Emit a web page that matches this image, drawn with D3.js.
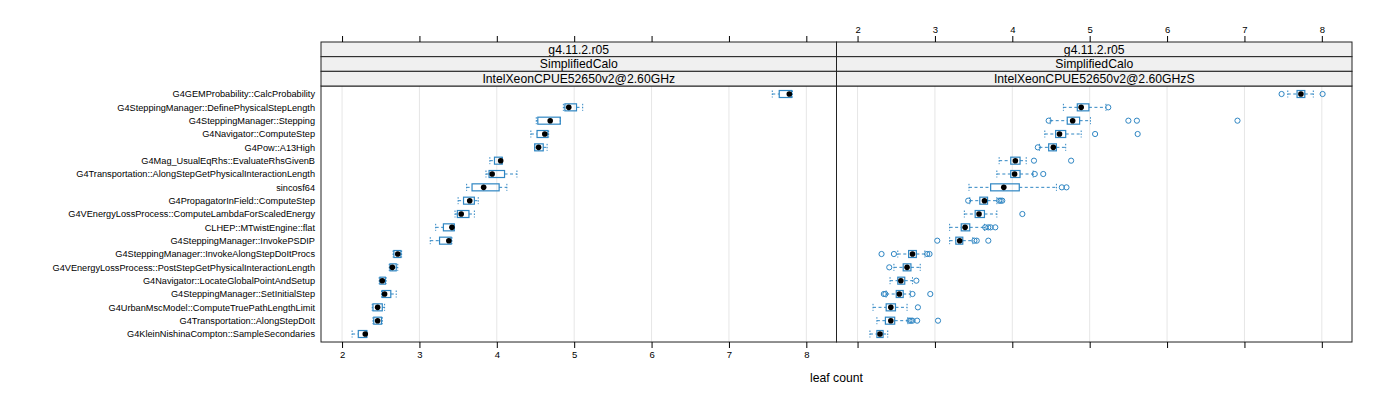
<!DOCTYPE html>
<html>
<head>
<meta charset="utf-8">
<script src="https://cdn.jsdelivr.net/npm/d3@7"></script>
<style>
  body { margin: 0; background: #fff; }
  svg { font-family: "Liberation Sans", Arial, sans-serif; }
</style>
</head>
<body>
<div id="chart"></div>
<script>
// categories top to bottom
var categories = [
  "G4GEMProbability::CalcProbability",
  "G4SteppingManager::DefinePhysicalStepLength",
  "G4SteppingManager::Stepping",
  "G4Navigator::ComputeStep",
  "G4Pow::A13High",
  "G4Mag_UsualEqRhs::EvaluateRhsGivenB",
  "G4Transportation::AlongStepGetPhysicalInteractionLength",
  "sincosf64",
  "G4PropagatorInField::ComputeStep",
  "G4VEnergyLossProcess::ComputeLambdaForScaledEnergy",
  "CLHEP::MTwistEngine::flat",
  "G4SteppingManager::InvokePSDIP",
  "G4SteppingManager::InvokeAlongStepDoItProcs",
  "G4VEnergyLossProcess::PostStepGetPhysicalInteractionLength",
  "G4Navigator::LocateGlobalPointAndSetup",
  "G4SteppingManager::SetInitialStep",
  "G4UrbanMscModel::ComputeTruePathLengthLimit",
  "G4Transportation::AlongStepDoIt",
  "G4KleinNishinaCompton::SampleSecondaries"
];
var panelStrips = [
  ["g4.11.2.r05", "SimplifiedCalo", "IntelXeonCPUE52650v2@2.60GHz"],
  ["g4.11.2.r05", "SimplifiedCalo", "IntelXeonCPUE52650v2@2.60GHzS"]
];
var xTicks = [2, 3, 4, 5, 6, 7, 8];

// left panel: whisker low, q1, median, q3, whisker high, outliers
var loA  = [7.56, 4.86, 4.51, 4.44, 4.49, 3.91, 3.86, 3.61, 3.50, 3.46, 3.21, 3.14, 2.66, 2.61, 2.48, 2.51, 2.39, 2.40, 2.13];
var q1A  = [7.65, 4.88, 4.53, 4.52, 4.49, 3.97, 3.90, 3.68, 3.57, 3.49, 3.31, 3.26, 2.67, 2.62, 2.49, 2.52, 2.40, 2.41, 2.21];
var medA = [7.78, 4.93, 4.69, 4.62, 4.54, 4.05, 3.94, 3.83, 3.65, 3.54, 3.42, 3.38, 2.72, 2.65, 2.52, 2.55, 2.46, 2.46, 2.30];
var q3A  = [7.81, 5.03, 4.82, 4.66, 4.60, 4.07, 4.10, 4.03, 3.71, 3.64, 3.45, 3.41, 2.76, 2.70, 2.56, 2.63, 2.52, 2.51, 2.32];
var hiA  = [7.82, 5.11, 4.82, 4.67, 4.65, 4.07, 4.26, 4.13, 3.76, 3.71, 3.45, 3.42, 2.77, 2.72, 2.57, 2.70, 2.55, 2.52, 2.32];
var outA = [[], [], [], [], [], [], [], [], [], [], [], [], [], [], [], [], [], [], []];

// right panel
var loB  = [7.56, 4.66, 4.49, 4.42, 4.35, 3.83, 3.80, 3.44, 3.45, 3.38, 3.19, 3.19, 2.52, 2.47, 2.42, 2.37, 2.20, 2.25, 2.16];
var q1B  = [7.68, 4.84, 4.71, 4.56, 4.47, 3.98, 3.98, 3.72, 3.58, 3.52, 3.34, 3.27, 2.66, 2.59, 2.52, 2.50, 2.37, 2.36, 2.25];
var medB = [7.73, 4.89, 4.78, 4.61, 4.53, 4.04, 4.03, 3.89, 3.64, 3.57, 3.39, 3.32, 2.71, 2.64, 2.56, 2.54, 2.43, 2.43, 2.29];
var q3B  = [7.78, 4.99, 4.87, 4.69, 4.57, 4.10, 4.10, 4.09, 3.68, 3.64, 3.45, 3.36, 2.76, 2.69, 2.61, 2.59, 2.49, 2.48, 2.33];
var hiB  = [7.89, 5.21, 5.01, 4.89, 4.69, 4.18, 4.27, 4.57, 3.80, 3.80, 3.64, 3.49, 2.87, 2.81, 2.71, 2.68, 2.64, 2.65, 2.39];
var outB = [
  [7.48, 8.01],
  [5.24],
  [4.47, 5.50, 5.61, 6.91],
  [5.07, 5.62],
  [4.33],
  [4.28, 4.76],
  [4.29, 4.40],
  [4.64, 4.70],
  [3.43, 3.83, 3.85, 3.87],
  [4.13],
  [3.65, 3.69, 3.72, 3.78],
  [3.03, 3.51, 3.54, 3.69],
  [2.31, 2.47, 2.90, 2.93],
  [2.41],
  [2.76],
  [2.34, 2.36, 2.71, 2.94],
  [2.78],
  [2.67, 2.69, 2.71, 2.77, 3.04],
  []
];

var panels = [
  {lo: loA, q1: q1A, med: medA, q3: q3A, hi: hiA, out: outA},
  {lo: loB, q1: q1B, med: medB, q3: q3B, hi: hiB, out: outB}
];

var W = 1400, H = 400;
var padL = 321, pw = 515.5, padT = 42, stripH = 14.67, ph = 256;
var plotTop = padT + 3 * stripH;
var boxCol = "#2f86c3";

var svg = d3.select("#chart").append("svg")
    .attr("width", W).attr("height", H);

var x = d3.scaleLinear().domain([1.728, 8.39]).range([0, pw]);
var y = d3.scalePoint().domain(categories).range([0, ph]).padding(0.6);

// y labels
svg.append("g")
  .selectAll("text")
  .data(categories)
  .enter().append("text")
    .attr("x", 315)
    .attr("y", d => plotTop + y(d))
    .attr("dy", "0.35em")
    .attr("text-anchor", "end")
    .attr("font-size", 9.2)
    .text(d => d);

panels.forEach(function(p, pi) {
  var g = svg.append("g")
      .attr("transform", "translate(" + (padL + pi * pw) + "," + plotTop + ")");

  // grid
  g.selectAll(".grid").data(xTicks).enter().append("line")
      .attr("x1", d => x(d)).attr("x2", d => x(d))
      .attr("y1", 0).attr("y2", ph)
      .attr("stroke", "#e6e6e6").attr("stroke-width", 1);

  var rows = g.selectAll(".row").data(categories).enter().append("g")
      .attr("transform", d => "translate(0," + y(d) + ")");
  var bh = 7;

  // whiskers (dashed)
  rows.append("line")
      .attr("x1", (d, i) => x(p.lo[i])).attr("x2", (d, i) => x(p.q1[i]))
      .attr("stroke", boxCol).attr("stroke-dasharray", "3,2.5");
  rows.append("line")
      .attr("x1", (d, i) => x(p.q3[i])).attr("x2", (d, i) => x(p.hi[i]))
      .attr("stroke", boxCol).attr("stroke-dasharray", "3,2.5");
  // whisker caps
  rows.append("line")
      .attr("x1", (d, i) => x(p.lo[i])).attr("x2", (d, i) => x(p.lo[i]))
      .attr("y1", -bh / 2).attr("y2", bh / 2)
      .attr("stroke", boxCol).attr("stroke-dasharray", "1.5,1.5");
  rows.append("line")
      .attr("x1", (d, i) => x(p.hi[i])).attr("x2", (d, i) => x(p.hi[i]))
      .attr("y1", -bh / 2).attr("y2", bh / 2)
      .attr("stroke", boxCol).attr("stroke-dasharray", "1.5,1.5");
  // box
  rows.append("rect")
      .attr("x", (d, i) => x(p.q1[i]))
      .attr("y", -bh / 2)
      .attr("width", (d, i) => x(p.q3[i]) - x(p.q1[i]))
      .attr("height", bh)
      .attr("fill", "none").attr("stroke", boxCol).attr("stroke-width", 1.2);
  // outliers
  rows.each(function(d, i) {
    d3.select(this).selectAll("circle.out").data(p.out[i]).enter().append("circle")
        .attr("cx", v => x(v)).attr("cy", 0).attr("r", 2.6)
        .attr("fill", "none").attr("stroke", boxCol).attr("stroke-width", 1);
  });
  // median dot
  rows.append("circle")
      .attr("cx", (d, i) => x(p.med[i])).attr("cy", 0).attr("r", 2.8)
      .attr("fill", "#000");

  // frame
  g.append("rect")
      .attr("x", 0).attr("y", 0).attr("width", pw).attr("height", ph)
      .attr("fill", "none").attr("stroke", "#222").attr("stroke-width", 1);

  // strips
  var sg = svg.append("g")
      .attr("transform", "translate(" + (padL + pi * pw) + "," + padT + ")");
  panelStrips[pi].forEach(function(s, si) {
    sg.append("rect")
        .attr("x", 0).attr("y", si * stripH).attr("width", pw).attr("height", stripH)
        .attr("fill", "#f0f0f0").attr("stroke", "#222").attr("stroke-width", 1);
    sg.append("text")
        .attr("x", pw / 2).attr("y", si * stripH + stripH / 2)
        .attr("dy", "0.36em").attr("text-anchor", "middle")
        .attr("font-size", 12.2)
        .text(s);
  });

  // top axis (labels on right panel only)
  var topAxis = d3.axisTop(x).tickValues(xTicks).tickSize(6).tickPadding(3)
      .tickFormat(pi === 1 ? d3.format("d") : "");
  svg.append("g")
      .attr("transform", "translate(" + (padL + pi * pw) + "," + padT + ")")
      .call(topAxis)
      .call(a => a.select(".domain").remove())
      .call(a => a.selectAll("text").attr("font-size", 9.5).attr("font-family", null));

  // bottom axis (labels on left panel only)
  var botAxis = d3.axisBottom(x).tickValues(xTicks).tickSize(6).tickPadding(3)
      .tickFormat(pi === 0 ? d3.format("d") : "");
  svg.append("g")
      .attr("transform", "translate(" + (padL + pi * pw) + "," + (plotTop + ph) + ")")
      .call(botAxis)
      .call(a => a.select(".domain").remove())
      .call(a => a.selectAll("text").attr("font-size", 9.5).attr("font-family", null));
});

// x axis title
svg.append("text")
    .attr("x", padL + pw).attr("y", 382)
    .attr("text-anchor", "middle")
    .attr("font-size", 12.2)
    .text("leaf count");
</script>
</body>
</html>
